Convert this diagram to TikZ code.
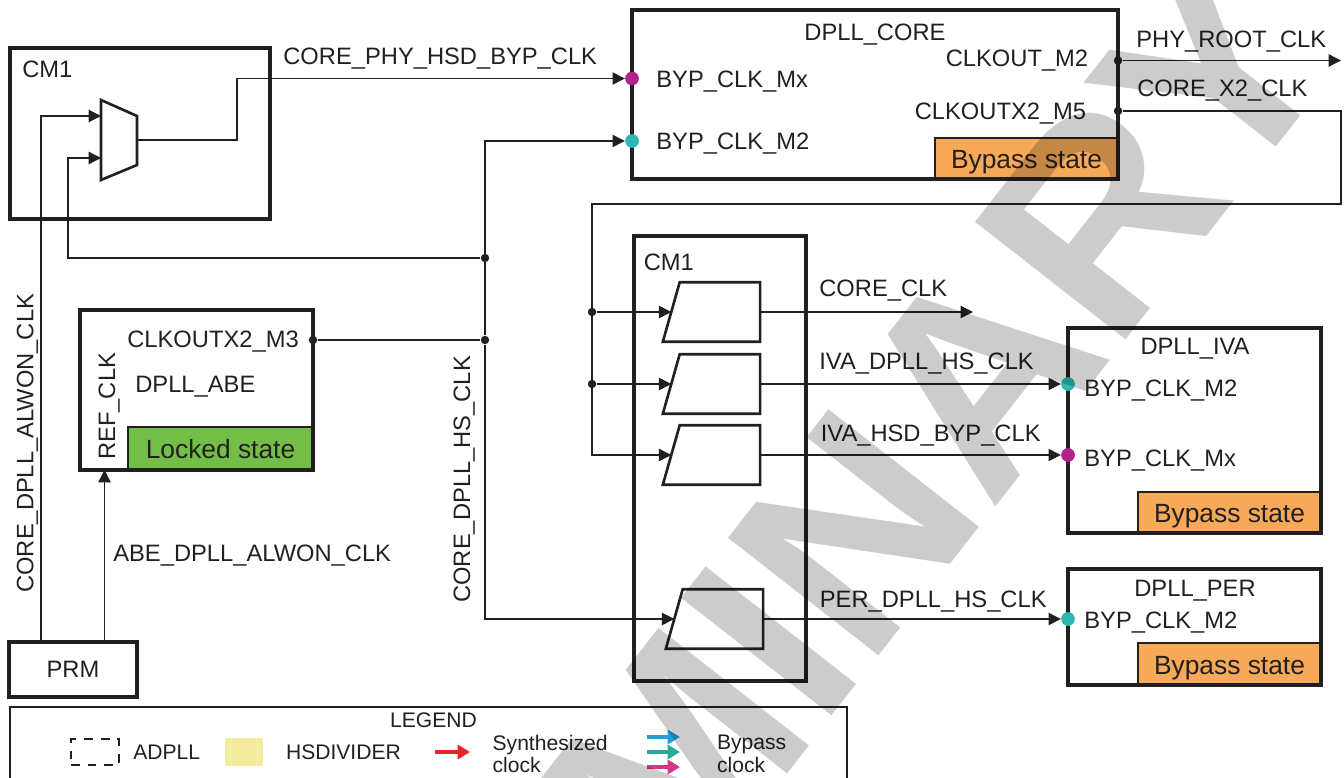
\documentclass[tikz,border=0pt]{standalone}
\usepackage{fontspec}
\setmainfont{Liberation Sans}
\usetikzlibrary{arrows.meta,positioning,fit}
\definecolor{ink}{HTML}{231F20}
\definecolor{bypass}{HTML}{F6A957}
\definecolor{locked}{HTML}{72BE46}
\definecolor{hsd}{HTML}{F3EBA0}
\definecolor{pmag}{HTML}{B3218C}
\definecolor{pteal}{HTML}{2EB7B3}
\definecolor{kred}{HTML}{E82429}
\definecolor{kblue}{HTML}{1DA1DC}
\definecolor{kteal}{HTML}{2BAA93}
\definecolor{kmag}{HTML}{D6338B}
\begin{document}
\begin{tikzpicture}[x=0.02cm, y=-0.02cm,
  font=\fontsize{13.5}{16}\selectfont,
  box/.style={draw=ink, line width=2.2pt, inner sep=0pt},
  statebox/.style={draw=ink, line width=1.1pt, inner sep=0pt},
  statetext/.style={inner sep=0pt, anchor=base, text=ink, font=\fontsize{15}{18}\selectfont},
  lbl/.style={inner sep=0pt, anchor=base west, text=ink},
  div/.style={rectangle, inner sep=0pt, minimum width=55pt, minimum height=33.5pt},
  divline/.style={draw=ink, line width=1.5pt, line join=miter},
  wire/.style={draw=ink, line width=0.75pt},
  arr/.style={wire, -{Triangle[length=7pt, width=7pt]}},
  jdot/.style={circle, fill=ink, inner sep=0pt, minimum size=4.8pt},
  pin/.style={circle, inner sep=0pt, minimum size=7.8pt},
  key/.style={line width=2pt, -{Triangle[length=7pt, width=8pt]}},
  legtext/.style={lbl, font=\fontsize{12}{14}\selectfont},
]
\useasboundingbox (0,0) rectangle (1344,777);

% state boxes first, outer frames on top
\node[statebox, fill=bypass, fit={(935,138) (1118,179)}] (cst) {};
\node[statebox, fill=bypass, fit={(1138,492) (1321,533)}] (ist) {};
\node[statebox, fill=bypass, fit={(1138,643) (1321,685)}] (pst) {};
\node[statebox, fill=locked, fit={(128,427) (313,470)}] (ast) {};
\node[statetext] (cstt) at ([yshift=-5.7pt]cst.center) {Bypass state};
\node[statetext] (istt) at ([yshift=-5.7pt]ist.center) {Bypass state};
\node[statetext] (pstt) at ([yshift=-5.7pt]pst.center) {Bypass state};
\node[statetext] (astt) at ([yshift=-5.7pt]ast.center) {Locked state};

\node[box, fit={(10,48) (270,219)}] (cml) {};
\node[box, fit={(632,10) (1118,179)}] (core) {};
\node[box, fit={(80,310) (313,470)}] (abe) {};
\node[box, fit={(9,642) (137,697)}] (prm) {};
\node[box, fit={(634,236) (806,681)}] (cmr) {};
\node[box, fit={(1068,328) (1321,533)}] (iva) {};
\node[box, fit={(1068,569) (1321,685)}] (per) {};
\node[lbl, anchor=base] (prmt) at ([yshift=-4.8pt]prm.center) {PRM};

% mux
\draw[divline] (101,100) -- (137,116) -- (137,165) -- (101,180) -- cycle;
\coordinate (muxa) at (101,116);
\coordinate (muxb) at (101,158);
\coordinate (muxo) at (137,140);

% dividers
\node[div] (d1) at (711.5,312) {};
\node[div] (d2) at (711.5,384) {};
\node[div] (d3) at (711.5,455) {};
\node[div] (d4) at (714.5,619) {};
\foreach \d in {d1,d2,d3,d4}
  \draw[divline] (\d.south west) -- ([xshift=9.6pt]\d.north west) -- (\d.north east) -- (\d.south east) -- cycle;

% pins and junctions
\node[pin, fill=pmag] (pmx) at (632,78.5) {};
\node[pin, fill=pteal] (pm2) at (632,141) {};
\node[jdot] (kout) at (1118,60.5) {};
\node[jdot] (kx2) at (1118,111) {};
\node[pin, fill=pteal] (ivam2) at (1068,384) {};
\node[pin, fill=pmag] (ivamx) at (1068,455) {};
\node[pin, fill=pteal] (perm2) at (1068,619) {};
\node[jdot] (m3) at (313,340) {};
\node[jdot] (h1) at (485,258) {};
\node[jdot] (h2) at (485,340) {};
\coordinate (alw) at (41,116);
\coordinate (refk) at (104.5,470);
\coordinate (lp) at (68,258);
\coordinate (mxk) at (237,140);
\coordinate (phy) at (1341,60.5);
\coordinate (x2a) at (1341,111);
\coordinate (x2b) at (592,204);
\coordinate (cclk) at (973,312);
\node[jdot] (s1) at (x2b |- d1) {};
\node[jdot] (s2) at (x2b |- d2) {};

% connectors
\draw[arr] (prm.north -| alw) -- (alw) -- (muxa);
\draw[arr] (prm.north -| refk) -- (refk);
\draw[arr] (h1) -- (lp) |- (muxb);
\draw[arr] (muxo) -- (mxk) |- (pmx);
\draw[wire] (m3) -- (h2);
\draw[wire] (h1) -- (h2);
\draw[arr] (h2) |- (pm2);
\draw[arr] (h2) |- ([xshift=4.8pt]d4.west);
\draw[arr] (kout) -- (phy);
\draw[arr] (kx2) -- (x2a) |- (x2b) |- ([xshift=4.8pt]d3.west);
\draw[arr] (s1) -- ([xshift=4.8pt]d1.west);
\draw[arr] (s2) -- ([xshift=4.8pt]d2.west);
\draw[arr] (d1.east) -- (cclk);
\draw[arr] (d2.east) -- (ivam2);
\draw[arr] (d3.east) -- (ivamx);
\draw[arr] (d4.east) -- (perm2);

% labels
\node[lbl] (cmlt) at (22,77) {CM1};
\node[lbl] (hsdbyp) at (283,65) {CORE\_PHY\_HSD\_BYP\_CLK};
\node[lbl, anchor=base] (coret) at (875,41) {DPLL\_CORE};
\node[lbl] (bmx) at (656,87.5) {BYP\_CLK\_Mx};
\node[lbl] (bm2) at (656,149) {BYP\_CLK\_M2};
\node[lbl, anchor=base east] (com2) at (1088.5,66.5) {CLKOUT\_M2};
\node[lbl, anchor=base east] (com5) at (1086.5,119) {CLKOUTX2\_M5};
\node[lbl] (phyt) at (1136,48) {PHY\_ROOT\_CLK};
\node[lbl] (x2t) at (1137,96.5) {CORE\_X2\_CLK};
\node[lbl] (cmrt) at (643.5,270) {CM1};
\node[lbl] (cclkt) at (819,296) {CORE\_CLK};
\node[lbl] (ivahs) at (819,369) {IVA\_DPLL\_HS\_CLK};
\node[lbl] (ivabyp) at (820.5,441.5) {IVA\_HSD\_BYP\_CLK};
\node[lbl] (perhs) at (819.5,607.5) {PER\_DPLL\_HS\_CLK};
\node[lbl, anchor=base] (ivat) at (1195,354) {DPLL\_IVA};
\node[lbl] (ivam2t) at (1084,396.5) {BYP\_CLK\_M2};
\node[lbl] (ivamxt) at (1084,466.5) {BYP\_CLK\_Mx};
\node[lbl, anchor=base] (pert) at (1195,596.5) {DPLL\_PER};
\node[lbl] (perm2t) at (1084,628) {BYP\_CLK\_M2};
\node[lbl] (m3t) at (127,347.3) {CLKOUTX2\_M3};
\node[lbl] (abet) at (135,392.7) {DPLL\_ABE};
\node[lbl, rotate=90] (reft) at (115,460) {REF\_CLK};
\node[lbl] (abealw) at (113,561.7) {ABE\_DPLL\_ALWON\_CLK};
\node[lbl, rotate=90] (corealw) at (33.3,593) {CORE\_DPLL\_ALWON\_CLK};
\node[lbl, rotate=90] (corehs) at (470,603) {CORE\_DPLL\_HS\_CLK};

% legend
\node[draw=ink, line width=0.8pt, inner sep=0pt, fit={(10,707) (847,800)}] (leg) {};
\node[legtext, anchor=base] (legt) at (433.5,727) {LEGEND};
\node[draw=ink, line width=1.2pt, dash pattern=on 5pt off 4.5pt, inner sep=0pt, fit={(71,739) (119,765)}] (kadpll) {};
\node[legtext] (kadpllt) at (133,759) {ADPLL};
\node[fill=hsd, inner sep=0pt, fit={(225,738) (263,766)}] (khsd) {};
\node[legtext] (khsdt) at (285.7,759) {HSDIVIDER};
\draw[key, kred] (435,752) -- (470,752);
\node[legtext] (ksyn) at (492.3,750) {Synthesized};
\node[legtext] (ksync) at (492.3,772) {clock};
\draw[key, kblue] (647,737) -- (680,737);
\draw[key, kteal] (647,752) -- (680,752);
\draw[key, kmag] (647,767) -- (680,767);
\node[legtext] (kbyp) at (716.7,749) {Bypass};
\node[legtext] (kbypc) at (716.7,772) {clock};

% watermark
\node[rotate=52, inner sep=0pt, text=black, text opacity=0.2, font=\fontsize{158}{158}\selectfont\bfseries] (wm) at (685,749) {PRELIMINARY};
\end{tikzpicture}
\end{document}
